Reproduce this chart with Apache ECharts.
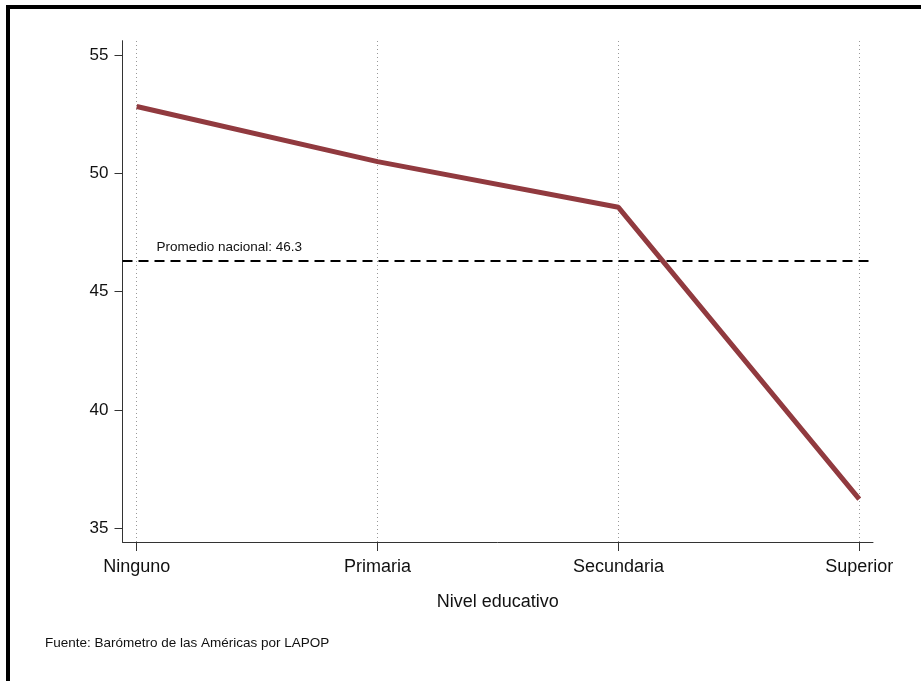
<!DOCTYPE html>
<html>
<head>
<meta charset="utf-8">
<script src="https://cdn.jsdelivr.net/npm/echarts@6/dist/echarts.min.js"></script>
<style>
html,body{margin:0;padding:0;background:#fff;}
#chart{width:921px;height:681px;}
</style>
</head>
<body>
<div id="chart"></div>
<script>
const categories = ['Ninguno', 'Primaria', 'Secundaria', 'Superior'];
const values = [52.82, 50.49, 48.56, 36.23];
const yTicks = [35, 40, 45, 50, 55];
const nationalAvg = 46.3;
const avgLabel = 'Promedio nacional: 46.3';
const xAxisTitle = 'Nivel educativo';
const sourceNote = 'Fuente: Barómetro de las Américas por LAPOP';

const xPositions = categories.map((c, i) => i);
const lineData = values.map((v, i) => [i, v]);
const FONT = '"Liberation Sans", Arial, sans-serif';

const chart = echarts.init(document.getElementById('chart'), null, {renderer: 'canvas'});
chart.setOption({
  animation: false,
  backgroundColor: '#ffffff',
  grid: {left: 122.5, right: 48, top: 40.7, bottom: 139, containLabel: false},
  xAxis: {
    type: 'value',
    min: -0.059,
    max: 3.057,
    name: xAxisTitle,
    nameLocation: 'middle',
    nameGap: 51,
    nameTextStyle: {fontFamily: FONT, fontSize: 18, color: '#111'},
    axisLine: {show: true, onZero: false, lineStyle: {color: '#333', width: 1}},
    axisTick: {show: true, customValues: xPositions, length: 9, lineStyle: {color: '#333'}},
    axisLabel: {
      customValues: xPositions,
      margin: 16,
      fontFamily: FONT, fontSize: 18, color: '#111',
      formatter: v => categories[Math.round(v)]
    },
    splitLine: {show: false}
  },
  yAxis: {
    type: 'value',
    min: 34.42,
    max: 55.6,
    axisLine: {show: true, onZero: false, lineStyle: {color: '#333', width: 1}},
    axisTick: {show: true, customValues: yTicks, length: 8, lineStyle: {color: '#333'}},
    axisLabel: {customValues: yTicks, margin: 14, fontFamily: FONT, fontSize: 17, color: '#111'},
    splitLine: {show: false}
  },
  series: [
    {
      type: 'line',
      data: [],
      silent: true,
      markLine: {
        silent: true,
        symbol: 'none',
        label: {show: false},
        lineStyle: {type: [1, 3], color: '#999999', width: 1},
        data: xPositions.map(x => ({xAxis: x}))
      }
    },
    {
      type: 'line',
      data: [],
      silent: true,
      markLine: {
        silent: true,
        symbol: 'none',
        lineStyle: {type: [10, 6], color: '#000', width: 2},
        label: {
          show: true,
          position: 'insideStartTop',
          distance: [34, 7],
          formatter: avgLabel,
          fontFamily: FONT, fontSize: 13.5, color: '#111'
        },
        data: [{yAxis: nationalAvg}]
      }
    },
    {
      type: 'line',
      data: lineData,
      showSymbol: false,
      symbol: 'none',
      lineStyle: {color: '#913a3f', width: 5},
      itemStyle: {color: '#913a3f'},
      z: 5
    }
  ],
  graphic: [
    {type: 'rect', shape: {x: 6, y: 5, width: 915, height: 4}, style: {fill: '#000'}},
    {type: 'rect', shape: {x: 6, y: 5, width: 4, height: 676}, style: {fill: '#000'}},
    {type: 'text', left: 45, top: 636, style: {text: sourceNote, font: '13.5px ' + FONT, fill: '#111'}}
  ]
});
</script>
</body>
</html>
